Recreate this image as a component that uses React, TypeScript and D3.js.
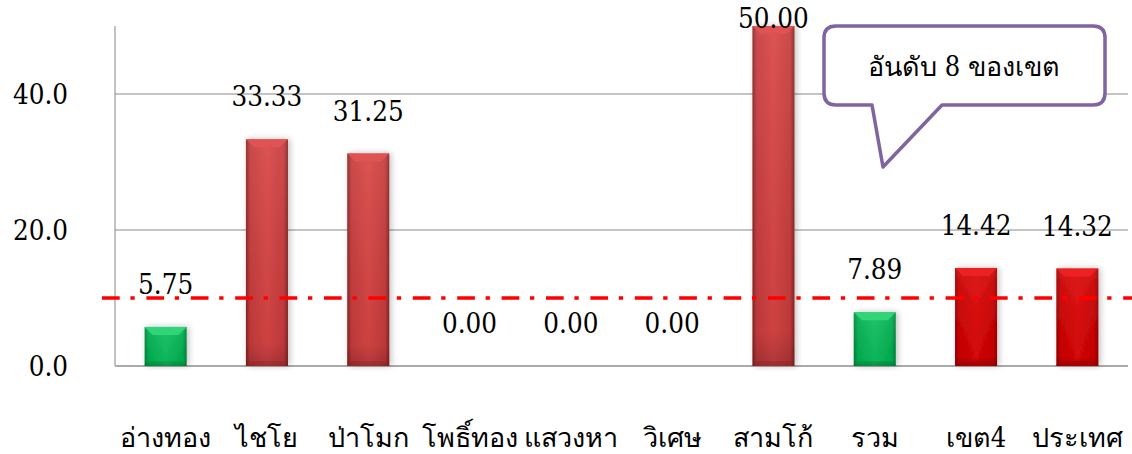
import React from "react";
import * as d3 from "d3";

const categories = ["อ่างทอง", "ไชโย", "ป่าโมก", "โพธิ์ทอง", "แสวงหา", "วิเศษ", "สามโก้", "รวม", "เขต4", "ประเทศ"];
const values = [5.75, 33.33, 31.25, 0, 0, 0, 50.0, 7.89, 14.42, 14.32];
const barKinds = ["green", "dark", "dark", "dark", "dark", "dark", "dark", "green", "bright", "bright"];
const yTicks = [0, 20, 40];
const threshold = 10;
const calloutText = "อันดับ 8 ของเขต";

const W = 1132;
const H = 454;
const left = 115;
const right = 1128;
const top = 26;
const bottom = 366;

const palette: Record<string, { base: string; light: string; dark: string; bevel: string }> = {
  dark: { base: "#c53b3c", light: "#d94545", dark: "#8a2323", bevel: "#e05252" },
  bright: { base: "#cc0000", light: "#dd0808", dark: "#9a0000", bevel: "#ec2020" },
  green: { base: "#00b050", light: "#10c060", dark: "#00843a", bevel: "#30d478" },
};

const numFont = "DejaVu Serif Condensed, DejaVu Serif, serif";
const thai = "DejaVu Serif Condensed, serif";

export default function App() {
  const x = d3.scaleBand<string>().domain(categories).range([left, right]).paddingInner(0.585).paddingOuter(0.2925);
  const y = d3.scaleLinear().domain([0, 50]).range([bottom, top]);
  const bw = x.bandwidth();

  return (
    <svg width={W} height={H} style={{ position: "absolute", left: 0, top: 0 }} xmlns="http://www.w3.org/2000/svg">
      <defs>
        {Object.entries(palette).map(([k, c]) => (
          <g key={k}>
            <linearGradient id={`h-${k}`} x1="0" x2="1" y1="0" y2="0">
              <stop offset="0" stopColor={c.dark} />
              <stop offset="0.1" stopColor={c.base} />
              <stop offset="0.5" stopColor={c.light} />
              <stop offset="0.9" stopColor={c.base} />
              <stop offset="1" stopColor={c.dark} />
            </linearGradient>
            <linearGradient id={`v-${k}`} x1="0" x2="0" y1="0" y2="1">
              <stop offset="0" stopColor="#ffffff" stopOpacity="0.08" />
              <stop offset="0.9" stopColor="#000000" stopOpacity="0.05" />
              <stop offset="1" stopColor="#000000" stopOpacity="0.2" />
            </linearGradient>
          </g>
        ))}
        <filter id="shadow" x="-30%" y="-10%" width="160%" height="120%">
          <feGaussianBlur in="SourceAlpha" stdDeviation="3" />
          <feOffset dx="2" dy="0" result="b" />
          <feComponentTransfer>
            <feFuncA type="linear" slope="0.25" />
          </feComponentTransfer>
          <feMerge>
            <feMergeNode />
            <feMergeNode in="SourceGraphic" />
          </feMerge>
        </filter>
      </defs>
      <rect width={W} height={H} fill="#ffffff" />

      {yTicks.filter((t) => t > 0).map((t) => (
        <line key={t} x1={left} x2={right} y1={y(t)} y2={y(t)} stroke="#888888" strokeWidth={1} />
      ))}

      <line x1={left} x2={left} y1={top} y2={bottom} stroke="#888888" strokeWidth={1} />
      <line x1={left} x2={right} y1={bottom} y2={bottom} stroke="#aaaaaa" strokeWidth={2} />

      {yTicks.map((t) => (
        <text key={t} x={68} y={y(t)} dy="0.36em" textAnchor="end" fontFamily={numFont} fontSize={27.5} fill="#000">
          {d3.format(".1f")(t)}
        </text>
      ))}

      {categories.map((c, i) => {
        const v = values[i];
        if (v <= 0) return null;
        const k = barKinds[i];
        const p = palette[k];
        const bx = x(c)!;
        const by = y(v);
        const bh = bottom - by;
        const bev = Math.min(8, bh / 2);
        return (
          <g key={c} filter="url(#shadow)">
            <rect x={bx} y={by} width={bw} height={bh} fill={`url(#h-${k})`} />
            <rect x={bx} y={by} width={bw} height={bh} fill={`url(#v-${k})`} />
            <polygon
              points={`${bx},${by} ${bx + bw},${by} ${bx + bw - bev},${by + bev} ${bx + bev},${by + bev}`}
              fill={p.bevel}
            />
            <polygon
              points={`${bx},${bottom} ${bx + bw},${bottom} ${bx + bw - 5},${bottom - 5} ${bx + 5},${bottom - 5}`}
              fill={p.dark}
              opacity={0.35}
            />
          </g>
        );
      })}

      <line
        x1={102}
        x2={W}
        y1={y(threshold)}
        y2={y(threshold)}
        stroke="#ff0000"
        strokeWidth={3.5}
        strokeDasharray="17.7 10.7 4.3 11.7"
      />

      {categories.map((c, i) => (
        <text
          key={c}
          x={x(c)! + bw / 2}
          y={Math.max(y(values[i]) - 33, 28)}
          textAnchor="middle"
          fontFamily={numFont}
          fontSize={27.5}
          fill="#000"
        >
          {d3.format(".2f")(values[i])}
        </text>
      ))}

      {categories.map((c) => (
        <text key={c} x={x(c)! + bw / 2} y={447} textAnchor="middle" fontFamily={thai} fontSize={27} fill="#000">
          {c}
        </text>
      ))}

      <path
        d="M836,26 H1093 Q1105,26 1105,38 V93 Q1105,105 1093,105 H942 L883,167 L872,105 H836 Q824,105 824,93 V38 Q824,26 836,26 Z"
        fill="#ffffff"
        stroke="#8064a2"
        strokeWidth={3.5}
        strokeLinejoin="round"
      />
      <text x={964} y={76} textAnchor="middle" fontFamily={thai} fontSize={27} fill="#000">
        {calloutText}
      </text>
    </svg>
  );
}
